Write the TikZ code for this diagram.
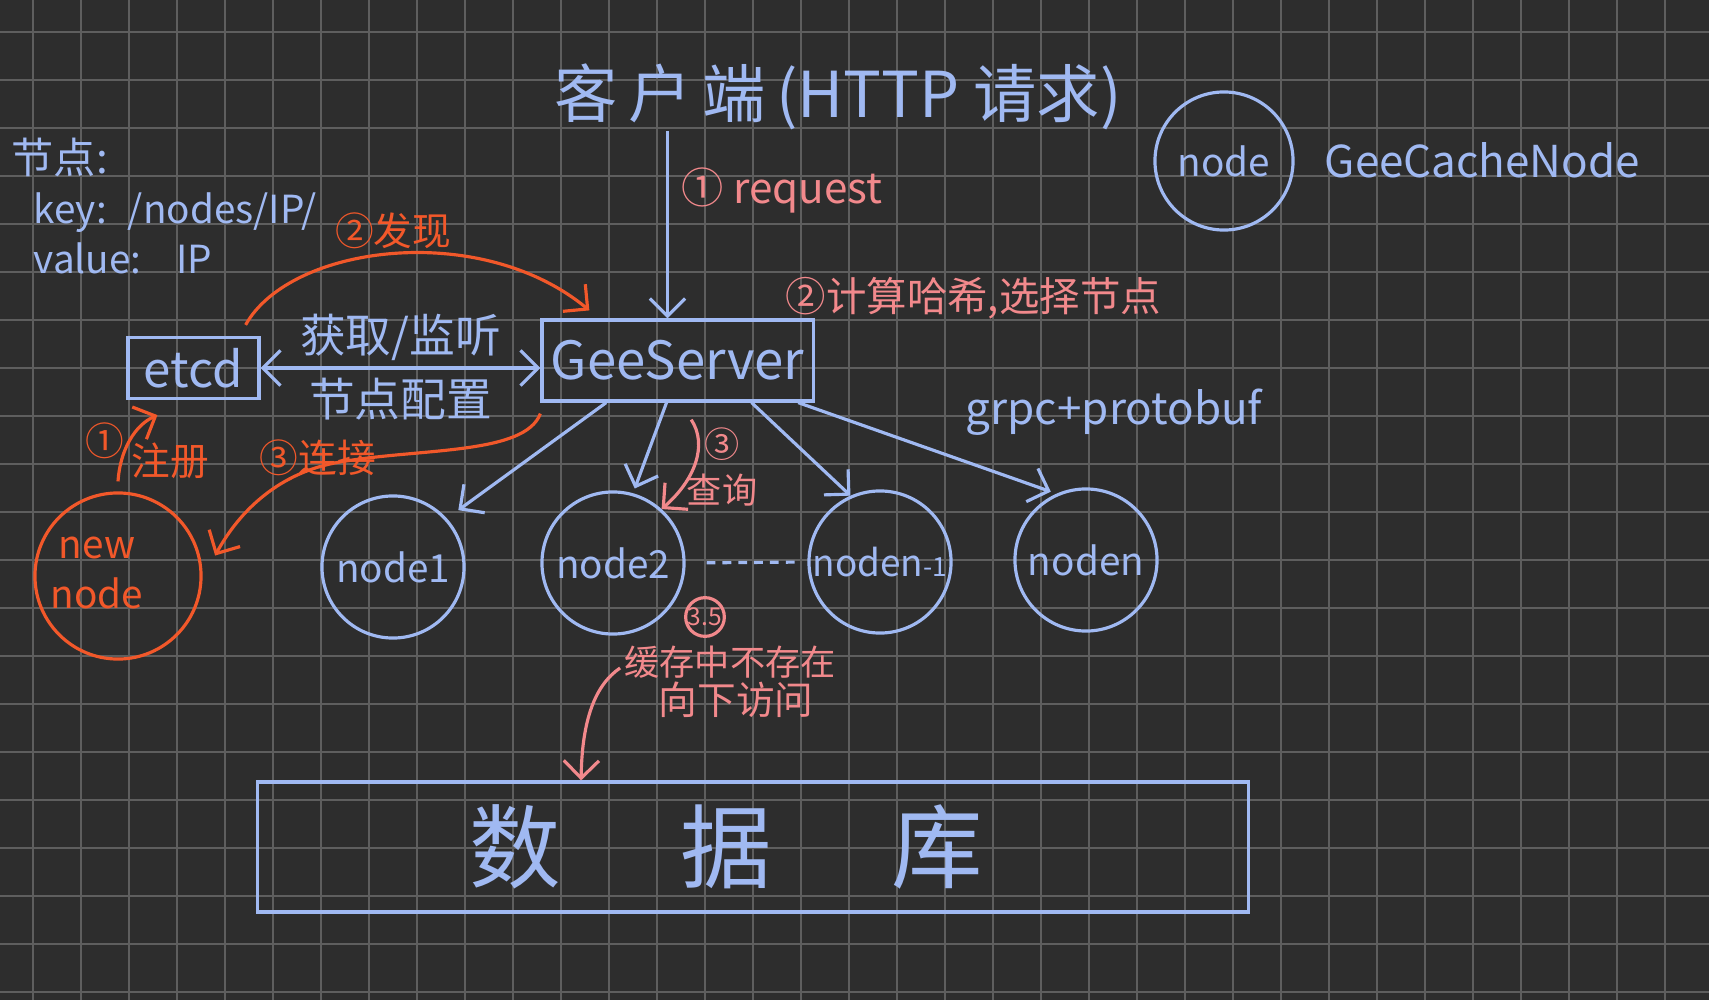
\documentclass[tikz,border=0pt]{standalone}
\usepackage{fontspec}
\setmainfont{Noto Sans CJK SC}
\usepackage{tikz}
\usetikzlibrary{arrows.meta,calc}

\definecolor{bgc}{HTML}{2D2D2D}
\definecolor{gridc}{HTML}{5E5E5E}
\definecolor{lblue}{HTML}{A0B9F2}
\definecolor{lpink}{HTML}{F2898C}
\definecolor{lorange}{HTML}{F2582A}

\begin{document}
\begin{tikzpicture}[x=0.01cm, y=-0.01cm,
  bl/.style={draw=lblue, line width=0.9pt},
  pk/.style={draw=lpink, line width=0.9pt},
  og/.style={draw=lorange, line width=0.9pt},
  barb/.style={-{Straight Barb[length=5pt,width=10pt]}},
  fz/.style 2 args={font=\fontsize{#1}{#2}\selectfont},
  bnode/.style={bl, circle, minimum size=1.42cm, inner sep=0pt, text=lblue, fz={11pt}{13pt}}]
  % 背景与网格
  \fill[bgc] (0,0) rectangle (1709,1000);
  \useasboundingbox (0,0) rectangle (1709,1000);
  \foreach \x in {33,81,...,1700} \draw[gridc, line width=0.6pt] (\x,0) -- (\x,1000);
  \foreach \y in {32,80,...,1000} \draw[gridc, line width=0.6pt] (0,\y) -- (1709,\y);

  % 客户端 -> GeeServer
  \node[text=lblue, fz={18pt}{20pt}, inner sep=0pt] (client) at (838,97) {客\hspace{3pt}户\hspace{3pt}端\hspace{3pt}(HTTP 请求)};
  \node[bl, minimum width=2.71cm, minimum height=0.81cm, inner sep=0pt, text=lblue, fz={15pt}{17pt}] (server) at (677.5,360.5) {GeeServer};
  \coordinate (reqtop) at ([xshift=-0.1cm]server.north);
  \draw[bl, barb] (reqtop |- client.south) -- (reqtop);
  \node[anchor=west, inner sep=0pt, text=lpink, fz={12pt}{14pt}] (req) at (681,190) {① request};
  \node[anchor=west, inner sep=0pt, text=lpink, fz={11.5pt}{14pt}] (hash) at (785,298) {②计算哈希,选择节点};
  \node[text=lblue, fz={12.5pt}{15pt}] (rpc) at (1114,412) {grpc+protobuf};

  % etcd 与节点配置
  \node[bl, minimum width=1.31cm, minimum height=0.61cm, inner sep=0pt, text=lblue, fz={14pt}{16pt}] (etcd) at (193.5,368) {etcd};
  \draw[bl, {Straight Barb[length=5pt,width=10pt]}-{Straight Barb[length=5pt,width=10pt]}] (etcd.east) -- (etcd.east -| server.west)
    node[midway, above, inner sep=1.5pt, text=lblue, fz={13pt}{15pt}] (watch) {获取/监听}
    node[midway, below, inner sep=2.5pt, text=lblue, fz={13pt}{15pt}] (conf) {节点配置};
  \node[anchor=west, inner sep=0pt, text=lblue, fz={12pt}{14pt}] (keyhead) at (11,157) {节点:};
  \node[anchor=west, inner sep=0pt, text=lblue, fz={11pt}{13pt}] (keyline) at (33,213) {key:\hspace{6pt}/nodes/IP/};
  \node[anchor=west, inner sep=0pt, text=lblue, fz={11pt}{13pt}] (valline) at (33,258) {value:\hspace{10pt}IP};

  % 缓存节点
  \node[bnode] (node1) at (393,567) {node1};
  \node[bnode] (node2) at (613,563) {node2};
  \node[bnode, fz={10.5pt}{12pt}] (nodenm) at (880,562) {noden{\fontsize{7.5pt}{8pt}\selectfont-1}};
  \node[bnode] (noden) at (1086,560) {noden};
  \draw[bl, dash pattern=on 2.5pt off 2pt, shorten <=0.21cm, shorten >=0.12cm] (node2.east) -- (nodenm.west);
  \draw[bl, barb, shorten >=0.14cm] ($(server.south west)!0.24!(server.south east)$) -- (node1.42);
  \draw[bl, barb, shorten >=0.05cm] ($(server.south west)!0.46!(server.south east)$) -- (node2.74);
  \draw[bl, barb] ($(server.south west)!0.77!(server.south east)$) -- (nodenm.114);
  \draw[bl, barb, shorten >=0.06cm] ($(server.south west)!0.94!(server.south east)$) -- (noden.114);

  % ③ 查询
  \draw[pk, barb] ([yshift=-0.17cm]$(server.south west)!0.55!(server.south east)$) .. controls (708,445) and (695,480) .. (node2.48);
  \node[text=lpink, fz={10pt}{13pt}, align=center] (query) at (722,467) {③\\查询};

  % 3.5 缓存未命中 -> 数据库
  \node[pk, circle, minimum size=0.36cm, inner sep=0pt, text=lpink, fz={7pt}{8pt}] (miss35) at (705,617) {3.5};
  \node[text=lpink, fz={10pt}{12pt}] (miss1) at (730,662) {缓存中不存在};
  \node[text=lpink, fz={11pt}{13pt}] (miss2) at (736,700) {向下访问};
  \node[bl, minimum width=9.9cm, minimum height=1.3cm, text=lblue, fz={26pt}{30pt}] (db) at (753,847) {数\hspace{34pt}据\hspace{34pt}库\hspace{15pt}\mbox{}};
  \draw[pk, barb] ([xshift=0.08cm,yshift=-0.06cm]miss1.west) .. controls (595,685) and (582,720) .. ($(db.north west)!0.327!(db.north east)$);

  % 新节点: 注册 / 发现 / 连接
  \node[og, circle, minimum size=1.66cm, inner sep=0pt] (newnode) at (118,576) {};
  \node[text=lorange, fz={11pt}{14pt}, align=center] (newtext) at (97,573) {new\\node};
  \draw[og, barb] ([yshift=0.1cm]newnode.north) .. controls (120,450) and (135,425) .. ([xshift=-0.36cm,yshift=-0.15cm]etcd.south);
  \node[text=lorange, fz={11pt}{13pt}] (reg1) at (105,441) {①};
  \node[text=lorange, fz={11pt}{13pt}] (reg2) at (170,461) {注册};
  \draw[og, barb] ([xshift=-0.15cm,yshift=0.11cm]etcd.north east) .. controls (290,245) and (480,220) .. ([xshift=0.49cm,yshift=0.08cm]server.north west)
    node[pos=0.5, above, inner sep=1pt, text=lorange, fz={11pt}{13pt}] (find) {②发现};
  \draw[og, barb] ([yshift=-0.11cm]server.south west) .. controls (525,455) and (420,448) .. (340,462) .. controls (280,472) and (240,510) .. ([xshift=0.15cm]newnode.14);
  \node[text=lorange, fz={11pt}{13pt}] (conn) at (318,458) {③连接};

  % 图例
  \node[bnode, minimum size=1.38cm] (legend) at (1224,161) {node};
  \node[anchor=west, inner sep=0pt, text=lblue, fz={12.5pt}{15pt}] (legendtxt) at (1324,160) {GeeCacheNode};
\end{tikzpicture}
\end{document}
